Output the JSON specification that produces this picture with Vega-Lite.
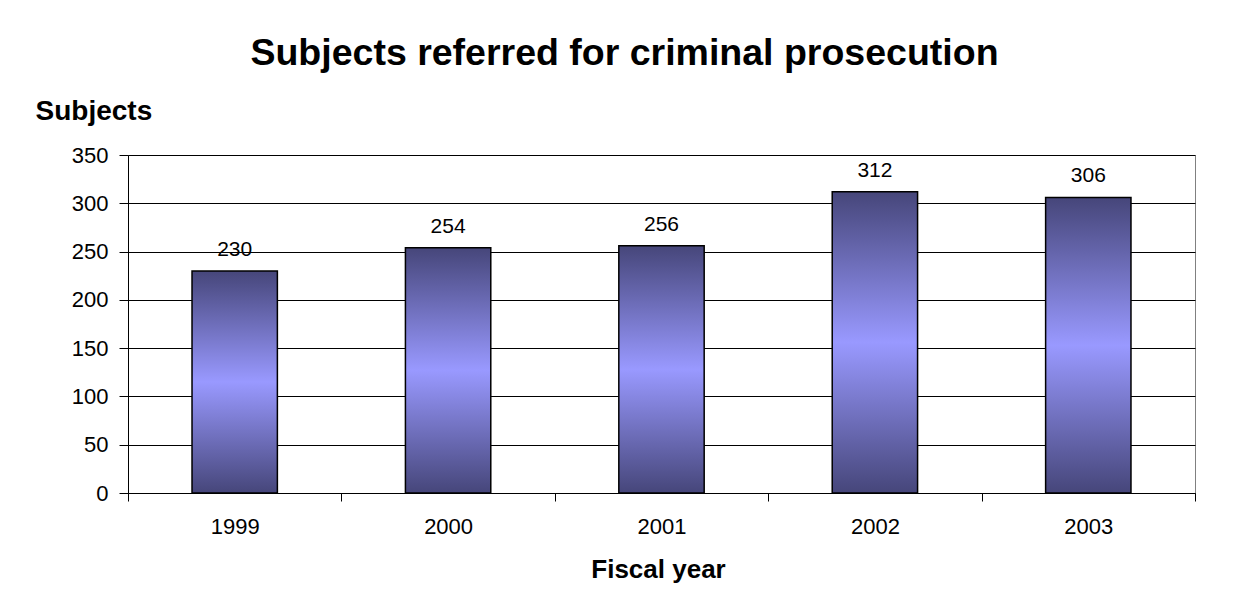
{
  "$schema": "https://vega.github.io/schema/vega-lite/v6.json",
  "autosize": {"type": "none"},
  "width": 1067,
  "height": 338,
  "padding": {"left": 128, "top": 155, "right": 49, "bottom": 100},
  "background": "white",
  "title": {
    "text": "Subjects referred for criminal prosecution",
    "font": "Liberation Sans",
    "fontSize": 37.5,
    "fontWeight": "bold",
    "color": "black",
    "anchor": "middle",
    "dx": -37,
    "offset": 25
  },
  "data": {
    "values": [
      {"year": "1999", "subjects": 230},
      {"year": "2000", "subjects": 254},
      {"year": "2001", "subjects": 256},
      {"year": "2002", "subjects": 312},
      {"year": "2003", "subjects": 306}
    ]
  },
  "encoding": {
    "x": {
      "field": "year",
      "type": "nominal",
      "scale": {"paddingInner": 0, "paddingOuter": 0},
      "axis": {
        "title": "Fiscal year",
        "labelAngle": 0,
        "tickBand": "extent",
        "tickSize": 8,
        "tickColor": "black",
        "domainColor": "black",
        "labelPadding": 15,
        "labelFontSize": 22,
        "labelFont": "Liberation Sans",
        "labelColor": "black",
        "titleFont": "Liberation Sans",
        "titleFontSize": 26,
        "titleFontWeight": "bold",
        "titleColor": "black",
        "titleBaseline": "alphabetic",
        "titleY": 84,
        "titleX": 530
      }
    },
    "y": {
      "field": "subjects",
      "type": "quantitative",
      "scale": {"domain": [0, 350]},
      "axis": {
        "title": "Subjects",
        "values": [0, 50, 100, 150, 200, 250, 300, 350],
        "grid": true,
        "gridColor": "black",
        "gridWidth": 1,
        "tickSize": 9,
        "tickColor": "black",
        "domainColor": "black",
        "labelPadding": 11,
        "labelFontSize": 22,
        "labelFont": "Liberation Sans",
        "labelColor": "black",
        "titleFont": "Liberation Sans",
        "titleFontSize": 28,
        "titleFontWeight": "bold",
        "titleColor": "black",
        "titleAngle": 0,
        "titleAlign": "left",
        "titleBaseline": "alphabetic",
        "titleX": -93,
        "titleY": -36
      }
    }
  },
  "layer": [
    {
      "mark": {
        "type": "bar",
        "width": {"band": 0.4},
        "stroke": "black",
        "strokeWidth": 1.5,
        "color": {
          "gradient": "linear",
          "x1": 0, "y1": 0, "x2": 0, "y2": 1,
          "stops": [
            {"offset": 0, "color": "#46467a"},
            {"offset": 0.5, "color": "#9999ff"},
            {"offset": 1, "color": "#46467a"}
          ]
        }
      }
    },
    {
      "mark": {
        "type": "text",
        "baseline": "alphabetic",
        "dy": -15,
        "font": "Liberation Sans",
        "fontSize": 21,
        "color": "black"
      },
      "encoding": {"text": {"field": "subjects", "type": "quantitative"}}
    }
  ],
  "config": {
    "view": {"stroke": "#808080", "strokeWidth": 1}
  }
}
